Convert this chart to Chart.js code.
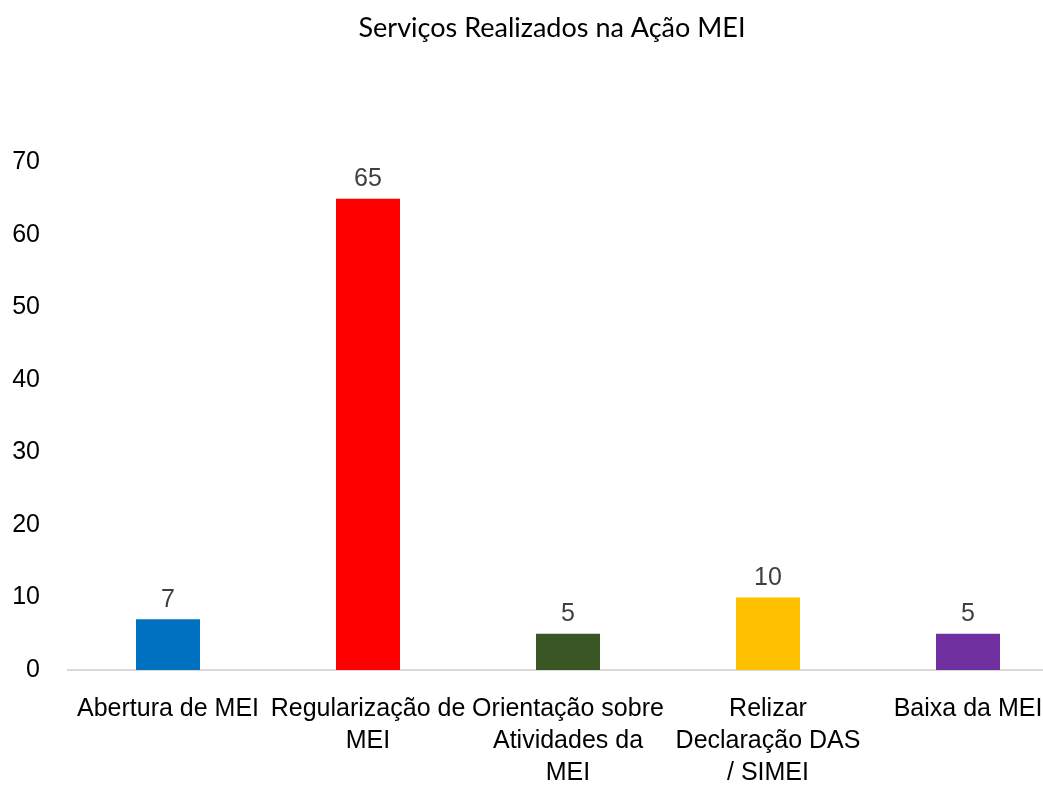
<!DOCTYPE html>
<html>
<head>
<meta charset="utf-8">
<script src="https://cdn.jsdelivr.net/npm/chart.js@4/dist/chart.umd.min.js"></script>
<style>
  html, body { margin: 0; padding: 0; background: #fff; overflow: hidden; }
  #wrap { width: 1104px; height: 785px; position: relative; }
</style>
</head>
<body>
<div id="wrap"><canvas id="c"></canvas></div>
<script>
const chartTitle = "Serviços Realizados na Ação MEI";
const categories = [
  ["Abertura de MEI"],
  ["Regularização de", "MEI"],
  ["Orientação sobre", "Atividades da", "MEI"],
  ["Relizar", "Declaração DAS", "/ SIMEI"],
  ["Baixa da MEI"]
];
const values = [7, 65, 5, 10, 5];
const barColors = ["#0070C0", "#FF0000", "#375623", "#FFC000", "#7030A0"];
const yTicks = [0, 10, 20, 30, 40, 50, 60, 70];

const labelFont = "'Liberation Sans', Arial, sans-serif";

const valueLabels = {
  id: 'valueLabels',
  afterDatasetsDraw(chart) {
    const ctx = chart.ctx;
    const meta = chart.getDatasetMeta(0);
    ctx.save();
    ctx.font = "25px " + labelFont;
    ctx.fillStyle = "#404040";
    ctx.textAlign = "center";
    ctx.textBaseline = "bottom";
    meta.data.forEach((bar, i) => {
      ctx.fillText(String(values[i]), bar.x, bar.y - 7);
    });
    ctx.restore();
  }
};

const titleShift = {
  id: 'titleShift',
  afterLayout(chart) {
    if (chart.titleBlock) {
      chart.titleBlock.left = 36;
    }
  }
};

new Chart(document.getElementById('c'), {
  type: 'bar',
  data: {
    labels: categories,
    datasets: [{
      data: values,
      backgroundColor: barColors,
      borderWidth: 0,
      categoryPercentage: 1,
      barPercentage: 0.32
    }]
  },
  options: {
    responsive: true,
    maintainAspectRatio: false,
    animation: false,
    layout: { padding: { left: 0, right: 36, top: 0, bottom: 0 } },
    plugins: {
      legend: { display: false },
      tooltip: { enabled: false },
      title: {
        display: true,
        text: chartTitle,
        color: "#000",
        font: { family: "Lato, 'Open Sans', sans-serif", size: 27, weight: 'normal' },
        padding: { top: 12, bottom: 118 }
      }
    },
    scales: {
      x: {
        grid: { display: false },
        border: { display: true, color: "#D9D9D9", width: 2 },
        ticks: {
          color: "#000",
          font: { family: labelFont, size: 25, lineHeight: 1.28 },
          padding: 15,
          maxRotation: 0,
          autoSkip: false
        },
        afterFit(scale) { scale.height = 115; }
      },
      y: {
        min: 0,
        max: 70,
        grid: { display: false },
        border: { display: false },
        afterBuildTicks(scale) { scale.ticks = yTicks.map(v => ({ value: v })); },
        ticks: {
          color: "#000",
          font: { family: labelFont, size: 25 },
          padding: 20
        },
        afterFit(scale) { scale.width = 68; }
      }
    }
  },
  plugins: [valueLabels, titleShift]
});
</script>
</body>
</html>
